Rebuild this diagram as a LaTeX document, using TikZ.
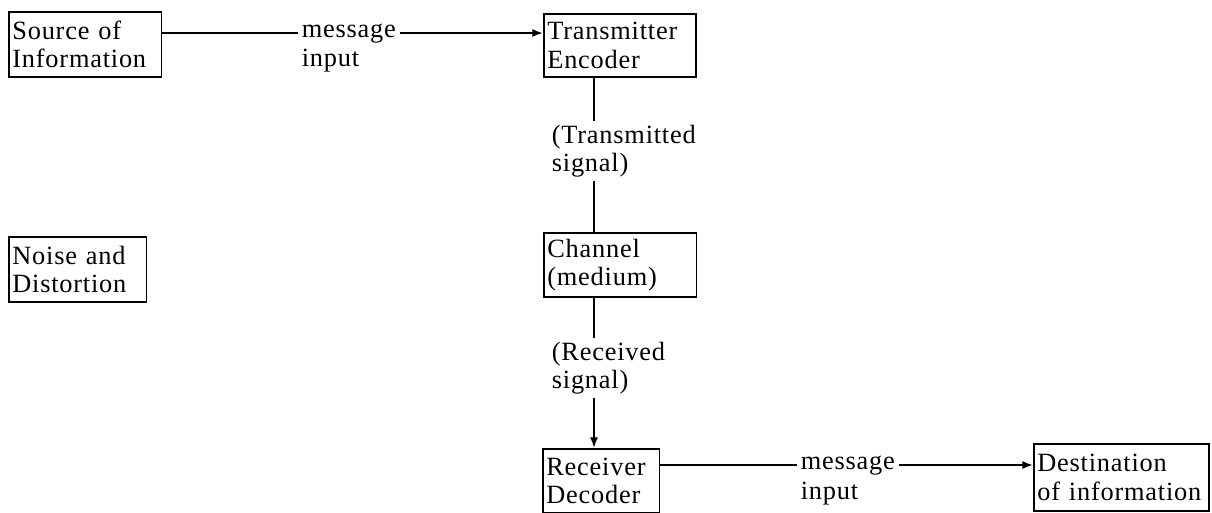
\documentclass[tikz,border=0pt]{standalone}
\usepackage{fontspec}
\setmainfont[LetterSpace=3]{Liberation Serif}
\usetikzlibrary{arrows.meta}

\begin{document}
\begin{tikzpicture}[x=0.02cm, y=-0.02cm,
    font=\fontsize{15}{16}\selectfont,
    blk/.style={draw, line width=1pt, anchor=north west, align=left, inner xsep=2pt, inner ysep=0pt},
    lbl/.style={inner sep=2pt, align=left},
    wire/.style={line width=1pt},
    arr/.style={line width=1pt, -{Latex[length=6pt,width=4.5pt]}}]
    \useasboundingbox (0,0) rectangle (1212,513);

    % boxes
    \node[blk, text width=2.91cm, minimum height=1.3cm] (src) at (8,11) {Source of\\Information};
    \node[blk, text width=2.9cm, minimum height=1.26cm] (tx) at (543,13) {Transmitter\\Encoder};
    \node[blk, text width=2.61cm, minimum height=1.3cm] (noise) at (8,236) {Noise and\\Distortion};
    \node[blk, text width=2.91cm, minimum height=1.28cm] (chan) at (543,232) {Channel\\(medium)};
    \node[blk, text width=2.19cm, minimum height=1.28cm] (rx) at (542,448) {Receiver\\Decoder};
    \node[blk, text width=3.36cm, minimum height=1.34cm] (dst) at (1033,443) {Destination\\of information};

    % message labels
    \node[lbl, anchor=west, text height=1ex, text depth=0pt] (msgA) at (298,33) {message};
    \node[lbl, anchor=base west] (inpA) at (298,67) {input};
    \node[lbl, anchor=west, text height=1ex, text depth=0pt] (msgB) at (797,465) {message};
    \node[lbl, anchor=base west] (inpB) at (797,499) {input};

    % signal labels
    \coordinate (vx) at (594,0);
    \node[lbl, anchor=west] (sigA) at (548,151) {(Transmitted\\signal)};
    \node[lbl, anchor=west] (sigB) at (548,368) {(Received\\signal)};

    % connectors
    \draw[wire] (src.east |- msgA.west) -- (msgA.west);
    \draw[arr] (msgA.east) -- (tx.west |- msgA.east);
    \draw[wire] (tx.south -| vx) -- (sigA.north -| vx);
    \draw[wire] (sigA.south -| vx) -- (chan.north -| vx);
    \draw[wire] (chan.south -| vx) -- (sigB.north -| vx);
    \draw[arr] (sigB.south -| vx) -- (rx.north -| vx);
    \draw[wire] (rx.east |- msgB.west) -- (msgB.west);
    \draw[arr] (msgB.east) -- (dst.west |- msgB.east);
\end{tikzpicture}
\end{document}
